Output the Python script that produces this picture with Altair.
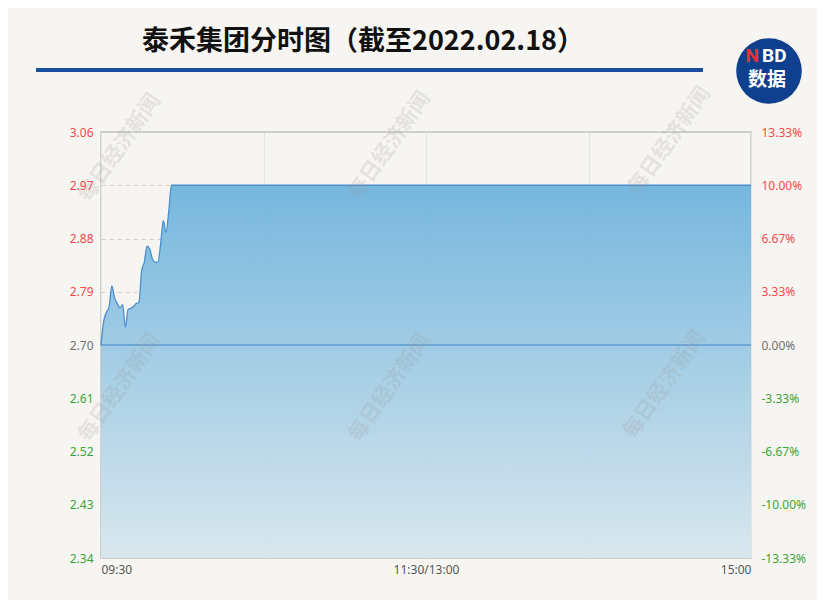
import altair as alt
import pandas as pd

# ---- data ----
minutes = [0, 1, 2, 3, 4, 5, 6, 7, 8, 9, 10, 11, 12, 13, 14, 15, 16, 17, 18, 19, 20, 21, 22, 23, 24, 25, 26, 240]
prices = [2.70, 2.74, 2.755, 2.765, 2.80, 2.78, 2.77, 2.763, 2.768, 2.73, 2.76, 2.762, 2.765, 2.77, 2.772,
          2.825, 2.84, 2.867, 2.862, 2.845, 2.84, 2.84, 2.87, 2.91, 2.89, 2.925, 2.97, 2.97]
prev_close = [2.70]
y_ticks = [2.34, 2.43, 2.52, 2.61, 2.70, 2.79, 2.88, 2.97, 3.06]
x_tick_vals = [0, 60, 120, 180, 240]
x_tick_labels = ["09:30", "", "11:30/13:00", "", "15:00"]
title_text = "泰禾集团分时图（截至2022.02.18）"
watermark = "每日经济新闻"

df = pd.DataFrame({"t": minutes, "price": prices})
df_ref = pd.DataFrame({"price": prev_close})

W, H = 650, 426
OX, OY = 101, 132  # plot origin on page
FONT = "Noto Sans"

ymin, ymax = y_ticks[0], y_ticks[-1]
yscale = alt.Scale(domain=[ymin, ymax], zero=False, nice=False)
xscale = alt.Scale(domain=[x_tick_vals[0], x_tick_vals[-1]], nice=False)

x_expr = " : ".join(
    f"datum.value == {v} ? '{l}'" for v, l in zip(x_tick_vals, x_tick_labels)
) + " : ''"

pc = prev_close[0]
color_expr = (f"datum.value > {pc + 0.005} ? '#f24a4a' : "
              f"(datum.value < {pc - 0.005} ? '#3aa53a' : '#707070')")

x_axis = alt.Axis(
    values=x_tick_vals, labelExpr=x_expr, title=None, grid=True, gridColor="#e4e4e4",
    domain=False, ticks=False, labelFlush=True, labelColor="#555555", labelFont=FONT,
    labelFontSize=12, labelPadding=6)
x_enc = alt.X("t:Q", scale=xscale, axis=x_axis)

left_axis = alt.Axis(values=y_ticks, format=".2f", title=None, grid=True, gridDash=[4, 4],
                     gridColor="#c8c8c8", gridOpacity=0.8, domain=False, ticks=False,
                     labelColor=alt.ExprRef(color_expr), labelFont=FONT, labelFontSize=12,
                     labelPadding=8)
right_axis = alt.Axis(values=y_ticks, orient="right", title=None, grid=False, domain=False,
                      ticks=False,
                      labelExpr=f"replace(format((datum.value - {pc}) / {pc} * 100, '.2f'), '\u2212', '-') + '%'",
                      labelColor=alt.ExprRef(color_expr), labelFont=FONT, labelFontSize=12,
                      labelPadding=10)

grad = alt.Gradient(gradient="linear",
                    stops=[alt.GradientStop(color="#6cb2dc", offset=0),
                           alt.GradientStop(color="#d6e6ee", offset=1)],
                    x1=1, x2=1, y1=0, y2=1)

area = alt.Chart(df).mark_area(color=grad, interpolate="monotone", opacity=0.93).encode(
    x=x_enc,
    y=alt.Y("price:Q", scale=yscale, axis=left_axis),
    y2=alt.datum(ymin),
)
line = alt.Chart(df).mark_line(color="#4a8fd0", strokeWidth=1.3, interpolate="monotone").encode(
    x=x_enc,
    y=alt.Y("price:Q", scale=yscale, axis=None),
)
ref = alt.Chart(df_ref).mark_rule(color="#3d84c6", strokeWidth=1.2).encode(
    y=alt.Y("price:Q", scale=yscale, axis=right_axis),
)

# ---- decorations (title, rule, logo, watermarks) ----
def txt(text, x, y, **kw):
    return alt.Chart(pd.DataFrame({"s": [text]})).mark_text(**kw).encode(
        text="s:N", x=alt.value(x - OX), y=alt.value(y - OY))

title = txt(title_text, 363, 42, font="Noto Sans CJK SC", fontSize=27, fontWeight="bold",
            color="#111111", align="center", baseline="middle")
title_rule = alt.Chart(df_ref).mark_rule(color="#1a4f9e", strokeWidth=4).encode(
    x=alt.value(36 - OX), x2=alt.value(703 - OX), y=alt.value(70 - OY))
logo = alt.Chart(df_ref).mark_point(filled=True, shape="circle", color="#0f3f8f", opacity=1,
                                    size=4300).encode(x=alt.value(769 - OX), y=alt.value(71 - OY))
logo_n = txt("N", 759, 56, font="Roboto", fontSize=19, fontWeight="bold", color="#e8323a",
             align="right", baseline="middle")
logo_bd = txt("BD", 762, 56, font="Roboto", fontSize=19, fontWeight="bold", color="#ffffff",
              align="left", baseline="middle")
logo_cn = txt("数据", 767, 80, font="Noto Sans CJK SC", fontSize=19, fontWeight="bold",
              color="#ffffff", align="center", baseline="middle")

wm_layers = []
for (wx, wy) in [(120, 148), (390, 146), (670, 141), (120, 388), (390, 388), (665, 385)]:
    wm_layers.append(txt(watermark, wx, wy, font="Noto Sans CJK SC", fontSize=21, angle=305,
                         fontWeight="bold", color="#9a9a9a", opacity=0.2, align="center",
                         baseline="middle"))

chart = alt.layer(area, line, ref, title, title_rule, logo, logo_n, logo_bd, logo_cn, *wm_layers
                  ).resolve_scale(y="independent").properties(
    width=W, height=H,
    autosize=alt.AutoSizeParams(type="none"),
    padding={"left": OX - 8, "top": OY - 8, "right": 825 - 8 - (OX + W), "bottom": 608 - 8 - (OY + H)},
    background="#f7f5f1",
).configure_view(stroke="#c4c4c4", strokeWidth=1.5, fill="#f7f5f1")

chart.save("out.html", embed_options={"renderer": "svg", "actions": False})
